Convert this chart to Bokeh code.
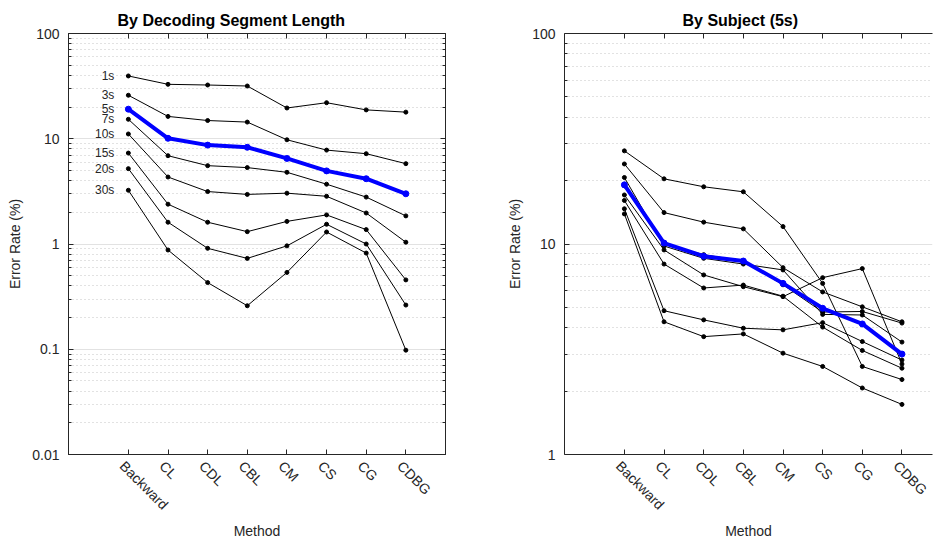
import math
from bokeh.plotting import figure
from bokeh.layouts import row
from bokeh.models import (FixedTicker, CustomJSTickFormatter, LogAxis, LinearAxis,
                          Range1d, Title)
from bokeh.embed import file_html
from bokeh.resources import INLINE
from bokeh.core.properties import value

# ---------------- data ----------------
methods = ["Backward", "CL", "CDL", "CBL", "CM", "CS", "CG", "CDBG"]

seg_labels = ["1s", "3s", "5s", "7s", "10s", "15s", "20s", "30s"]
seg_1s = [39.5, 32.9, 32.4, 31.7, 19.6, 22.0, 18.8, 17.9]
seg_3s = [25.9, 16.3, 14.9, 14.4, 9.78, 7.80, 7.21, 5.80]
seg_5s = [19.1, 10.1, 8.7, 8.3, 6.5, 4.95, 4.17, 3.0]
seg_7s = [15.3, 6.90, 5.55, 5.32, 4.80, 3.70, 2.79, 1.85]
seg_10s = [11.1, 4.33, 3.15, 2.96, 3.04, 2.84, 1.97, 1.04]
seg_15s = [7.31, 2.39, 1.61, 1.31, 1.64, 1.89, 1.37, 0.456]
seg_20s = [5.20, 1.61, 0.91, 0.73, 0.96, 1.54, 1.00, 0.263]
seg_30s = [3.24, 0.877, 0.43, 0.259, 0.537, 1.30, 0.82, 0.098]
highlight_seg = "5s"

subj_1 = [27.7, 20.4, 18.7, 17.7, 12.1, 6.50, 2.62, 2.27]
subj_2 = [24.0, 14.1, 12.7, 11.8, 7.72, 5.92, 5.03, 4.27]
subj_3 = [20.7, 9.78, 8.55, 8.03, 7.53, 4.63, 4.60, 3.42]
subj_4 = [18.9, 10.0, 8.9, 8.3, 6.4, 4.75, 4.78, 4.21]
subj_5 = [17.1, 9.37, 7.13, 6.27, 5.62, 6.92, 7.64, 2.69]
subj_6 = [16.1, 8.03, 6.18, 6.38, 5.65, 4.03, 3.12, 2.57]
subj_7 = [14.7, 4.82, 4.36, 3.98, 3.91, 4.23, 3.44, 2.81]
subj_8 = [13.9, 4.27, 3.63, 3.74, 3.03, 2.62, 2.07, 1.73]
subj_mean = [19.1, 10.1, 8.75, 8.3, 6.5, 4.95, 4.17, 3.0]

seg_series = [seg_1s, seg_3s, seg_5s, seg_7s, seg_10s, seg_15s, seg_20s, seg_30s]
subj_series = [subj_1, subj_2, subj_3, subj_4, subj_5, subj_6, subj_7, subj_8]

# ---------------- style ----------------
FONT = "Liberation Sans"
AX = "#262626"
BLUE = "#0000ff"
xpos = list(range(1, len(methods) + 1))
LABEL_SHIFT = 0.15   # rotated labels sit slightly left of their tick
empty_fmt = CustomJSTickFormatter(code="return ''")
name_fmt = CustomJSTickFormatter(args=dict(names=methods),
                                 code="return names[Math.round(tick) - 1]")


def log_ticker(lo_exp, hi_exp):
    major = [10.0 ** e for e in range(lo_exp, hi_exp + 1)]
    minor = [m * 10.0 ** e for e in range(lo_exp, hi_exp) for m in range(2, 10)]
    return FixedTicker(ticks=major, minor_ticks=minor)


def make_fig(width, ylo, yhi, lo_exp, hi_exp, x_end, bl, br, title, toffset, outline):
    p = figure(width=width, height=542, y_axis_type="log",
               x_range=Range1d(-0.51, x_end), y_range=Range1d(ylo, yhi),
               output_backend="svg", toolbar_location=None,
               min_border_left=bl, min_border_right=br,
               min_border_top=33, min_border_bottom=87)
    p.background_fill_color = "white"
    p.border_fill_color = "white"
    p.outline_line_color = AX if outline else None
    yt = log_ticker(lo_exp, hi_exp)
    xt = FixedTicker(ticks=xpos)

    # left y axis
    ya = p.yaxis[0]
    ya.ticker = yt
    ya.formatter = CustomJSTickFormatter(code="return String(tick)")
    ya.axis_label = "Error Rate (%)"
    ya.axis_label_text_font = FONT
    ya.axis_label_text_font_size = "14px"
    ya.axis_label_text_font_style = "normal"
    ya.axis_label_text_color = AX
    ya.axis_label_standoff = 6
    ya.major_label_text_font = FONT
    ya.major_label_text_font_size = "14px"
    ya.major_label_text_color = AX
    ya.major_label_standoff = 9
    ya.axis_line_color = AX
    ya.major_tick_line_color = AX
    ya.minor_tick_line_color = AX
    ya.major_tick_in = 5
    ya.major_tick_out = 0
    ya.minor_tick_in = 3
    ya.minor_tick_out = 0

    # bottom x axis: ticks only
    xa = p.xaxis[0]
    xa.ticker = xt
    xa.formatter = empty_fmt
    xa.major_label_standoff = 0
    xa.major_label_text_font_size = "0px"
    xa.axis_line_color = AX
    xa.major_tick_line_color = AX
    xa.major_tick_in = 5
    xa.major_tick_out = 0
    xa.minor_tick_line_color = None

    # rotated method labels on a second, line-less bottom axis
    lab_ticker = FixedTicker(ticks=[x - LABEL_SHIFT for x in xpos])
    la = LinearAxis(ticker=lab_ticker, formatter=name_fmt,
                    axis_line_color=None, major_tick_line_color=None,
                    minor_tick_line_color=None, major_tick_in=0, major_tick_out=0,
                    major_label_orientation=-math.pi / 4, major_label_standoff=9,
                    major_label_text_font=FONT, major_label_text_font_size="14px",
                    major_label_text_color=AX,
                    axis_label="Method", axis_label_text_font=FONT,
                    axis_label_text_font_size="14px", axis_label_text_font_style="normal",
                    axis_label_text_color=AX, axis_label_standoff=2)
    p.add_layout(la, "below")

    # mirrored axes (ticks only)
    top = LinearAxis(ticker=xt, formatter=empty_fmt, major_tick_in=5, major_tick_out=0,
                     major_label_standoff=0, major_label_text_font_size="0px",
                     axis_line_color=AX, major_tick_line_color=AX,
                     minor_tick_line_color=None)
    p.add_layout(top, "above")
    if outline:
        right = LogAxis(ticker=yt, formatter=empty_fmt, major_tick_in=5, major_tick_out=0,
                        minor_tick_in=3, minor_tick_out=0, major_label_standoff=0,
                        major_label_text_font_size="0px",
                        axis_line_color=AX, major_tick_line_color=AX,
                        minor_tick_line_color=AX)
        p.add_layout(right, "right")

    p.add_layout(Title(text=title, align="left", offset=toffset, text_font=FONT,
                       text_font_size="16px", text_font_style="bold", text_color="black",
                       standoff=10), "above")

    p.xgrid.visible = False
    p.ygrid.ticker = yt
    p.ygrid.grid_line_color = "#e2e2e2"
    p.ygrid.grid_line_width = 1
    p.ygrid.minor_grid_line_color = "#c4c4c4"
    p.ygrid.minor_grid_line_dash = "1 3"
    p.ygrid.minor_grid_line_width = 1
    return p


# ---------------- left panel ----------------
p1 = make_fig(504, 0.01, 100, -2, 2, 9.0, 68, 59, "By Decoding Segment Length", 49, True)
for lab, ys in zip(seg_labels, seg_series):
    if lab == highlight_seg:
        continue
    p1.line(xpos, ys, line_color="black", line_width=1)
    p1.scatter(xpos, ys, size=4, color="black")
hi = seg_series[seg_labels.index(highlight_seg)]
p1.line(xpos, hi, line_color=BLUE, line_width=4)
p1.scatter(xpos, hi, size=6, color=BLUE)
p1.text(x=[xpos[0]] * len(seg_labels), y=[s[0] for s in seg_series], text=seg_labels,
        x_offset=-14, text_align="right", text_baseline="middle",
        text_font=value(FONT), text_font_size="12px", text_color=AX)

# ---------------- right panel ----------------
p2 = make_fig(429, 1, 100, 0, 2, 8.77, 60, 1, "By Subject (5s)", 118, False)
for ys in subj_series:
    p2.line(xpos, ys, line_color="black", line_width=1)
    p2.scatter(xpos, ys, size=4, color="black")
p2.line(xpos, subj_mean, line_color=BLUE, line_width=4)
p2.scatter(xpos, subj_mean, size=6, color=BLUE)

layout = row(p1, p2)
open("out.html", "w").write(file_html(layout, INLINE))
